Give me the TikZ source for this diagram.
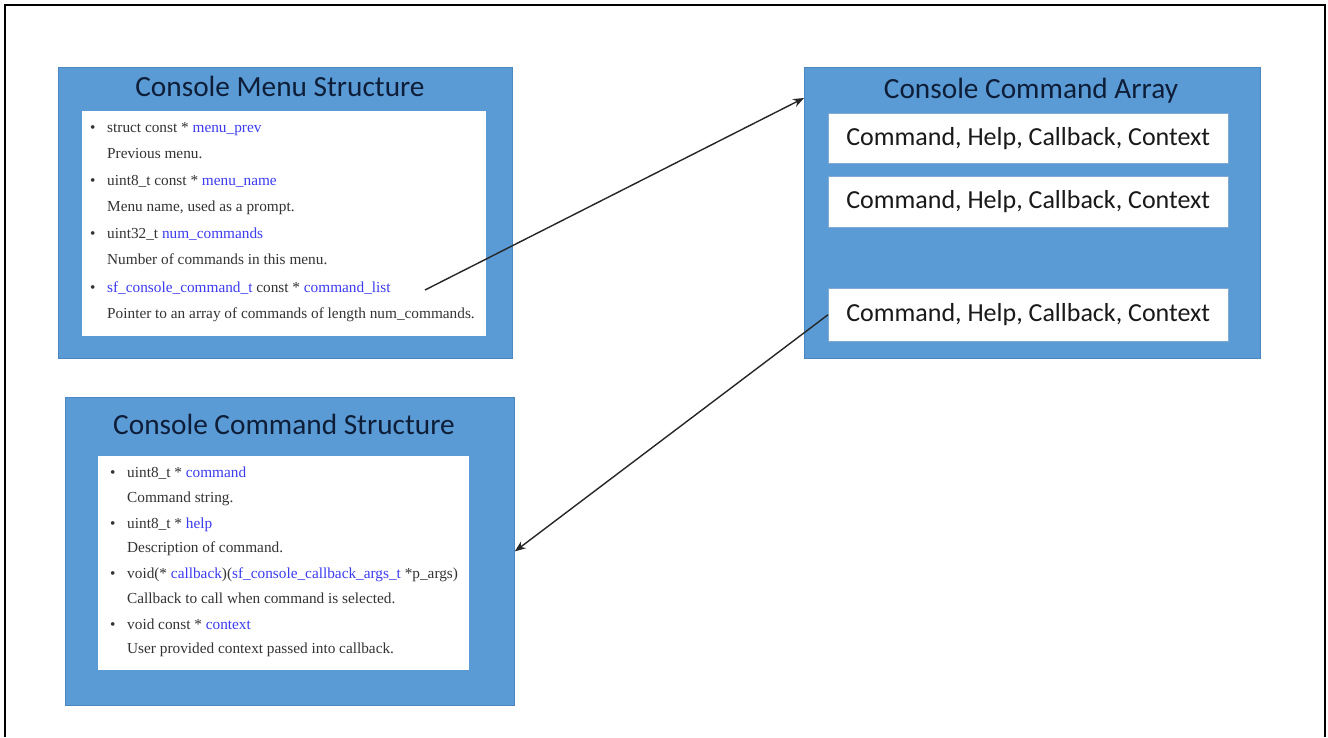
\documentclass[tikz,border=0pt]{standalone}
\usepackage{fontspec}
\setmainfont{Liberation Serif}
\newfontfamily\calfont{Carlito}
\usetikzlibrary{arrows.meta}
\definecolor{panelblue}{HTML}{5B9BD5}
\definecolor{paneledge}{HTML}{4A86BF}
\definecolor{titlenavy}{HTML}{0E1E38}
\definecolor{bodygrey}{HTML}{333333}
\definecolor{linkblue}{HTML}{3B3BF0}
\tikzset{
  panel/.style={draw=paneledge, line width=0.8pt, fill=panelblue, anchor=north west, inner sep=0pt},
  sheet/.style={fill=white, draw=none, anchor=north west, inner sep=0pt},
  rowbox/.style={fill=white, draw=paneledge!70, line width=0.5pt, anchor=north west, inner sep=0pt, minimum width=400pt,
    font=\calfont\fontsize{26}{30}\selectfont, text=black!90},
  paneltitle/.style={font=\calfont\fontsize{29.3}{34}\selectfont, text=titlenavy, inner sep=0pt},
  item/.style={anchor=base west, inner sep=0pt, font=\fontsize{15.3}{18}\selectfont, text=bodygrey},
  dot/.style={anchor=base west, inner sep=0pt, font=\fontsize{15.3}{18}\selectfont, text=bodygrey},
  link/.style={arrows={-Stealth[length=11pt,width=8.5pt]}, line width=1.4pt, draw=black!85},
}
\newcommand{\lk}[1]{\textcolor{linkblue}{#1}}
\begin{document}
\begin{tikzpicture}[x=1pt,y=-1pt]
\useasboundingbox (0,0) rectangle (1328,737);
\fill[white] (0,0) rectangle (1328,737);
% outer frame (open at the bottom)
\draw[line width=2pt] (5,737) -- (5,5) -- (1325,5) -- (1325,737);

% Console Menu Structure
\node[panel, minimum width=454pt, minimum height=291pt] (menu) at (58,67) {};
\node[paneltitle] (menutitle) at (280,86) {Console Menu Structure};
\node[sheet, minimum width=404pt, minimum height=225pt] (menusheet) at (82,111) {};
\node[dot] (mb1) at (90,132) {\textbullet};
\node[item] (m1) at (107,132) {struct const * \lk{menu\_prev}};
\node[item] (m2) at (107,158) {Previous menu.};
\node[dot] (mb2) at (90,185) {\textbullet};
\node[item] (m3) at (107,185) {uint8\_t const * \lk{menu\_name}};
\node[item] (m4) at (107,211) {Menu name, used as a prompt.};
\node[dot] (mb3) at (90,238) {\textbullet};
\node[item] (m5) at (107,238) {uint32\_t \lk{num\_commands}};
\node[item] (m6) at (107,264) {Number of commands in this menu.};
\node[dot] (mb4) at (90,292) {\textbullet};
\node[item] (m7) at (107,292) {\lk{sf\_console\_command\_t} const * \lk{command\_list}};
\node[item] (m8) at (107,318) {Pointer to an array of commands of length num\_commands.};
\coordinate (src) at (425,290);

% Console Command Array
\node[panel, minimum width=456pt, minimum height=291pt] (arr) at (804,67) {};
\node[paneltitle] (arrtitle) at (1031,91) {Console Command Array};
\node[rowbox, minimum height=50pt] (row1) at (828,113) {Command, Help, Callback, Context};
\node[rowbox, minimum height=51pt] (row2) at (828,176) {Command, Help, Callback, Context};
\node[rowbox, minimum height=53pt] (row3) at (828,288) {Command, Help, Callback, Context};

% Console Command Structure
\node[panel, minimum width=449pt, minimum height=308pt] (cmd) at (65,397) {};
\node[paneltitle] (cmdtitle) at (284,424) {Console Command Structure};
\node[sheet, minimum width=371pt, minimum height=214pt] (cmdsheet) at (98,456) {};
\node[dot] (cb1) at (110,477) {\textbullet};
\node[item] (c1) at (127,477) {uint8\_t * \lk{command}};
\node[item] (c2) at (127,502) {Command string.};
\node[dot] (cb2) at (110,528) {\textbullet};
\node[item] (c3) at (127,528) {uint8\_t * \lk{help}};
\node[item] (c4) at (127,552) {Description of command.};
\node[dot] (cb3) at (110,578) {\textbullet};
\node[item] (c5) at (127,578) {void(* \lk{callback})(\lk{sf\_console\_callback\_args\_t} *p\_args)};
\node[item] (c6) at (127,603) {Callback to call when command is selected.};
\node[dot] (cb4) at (110,629) {\textbullet};
\node[item] (c7) at (127,629) {void const * \lk{context}};
\node[item] (c8) at (127,653) {User provided context passed into callback.};

% connectors
\draw[link] (src) -- ([yshift=-31pt]arr.north west);
\draw[link] (row3.west) -- (cmd.east);
\end{tikzpicture}
\end{document}
